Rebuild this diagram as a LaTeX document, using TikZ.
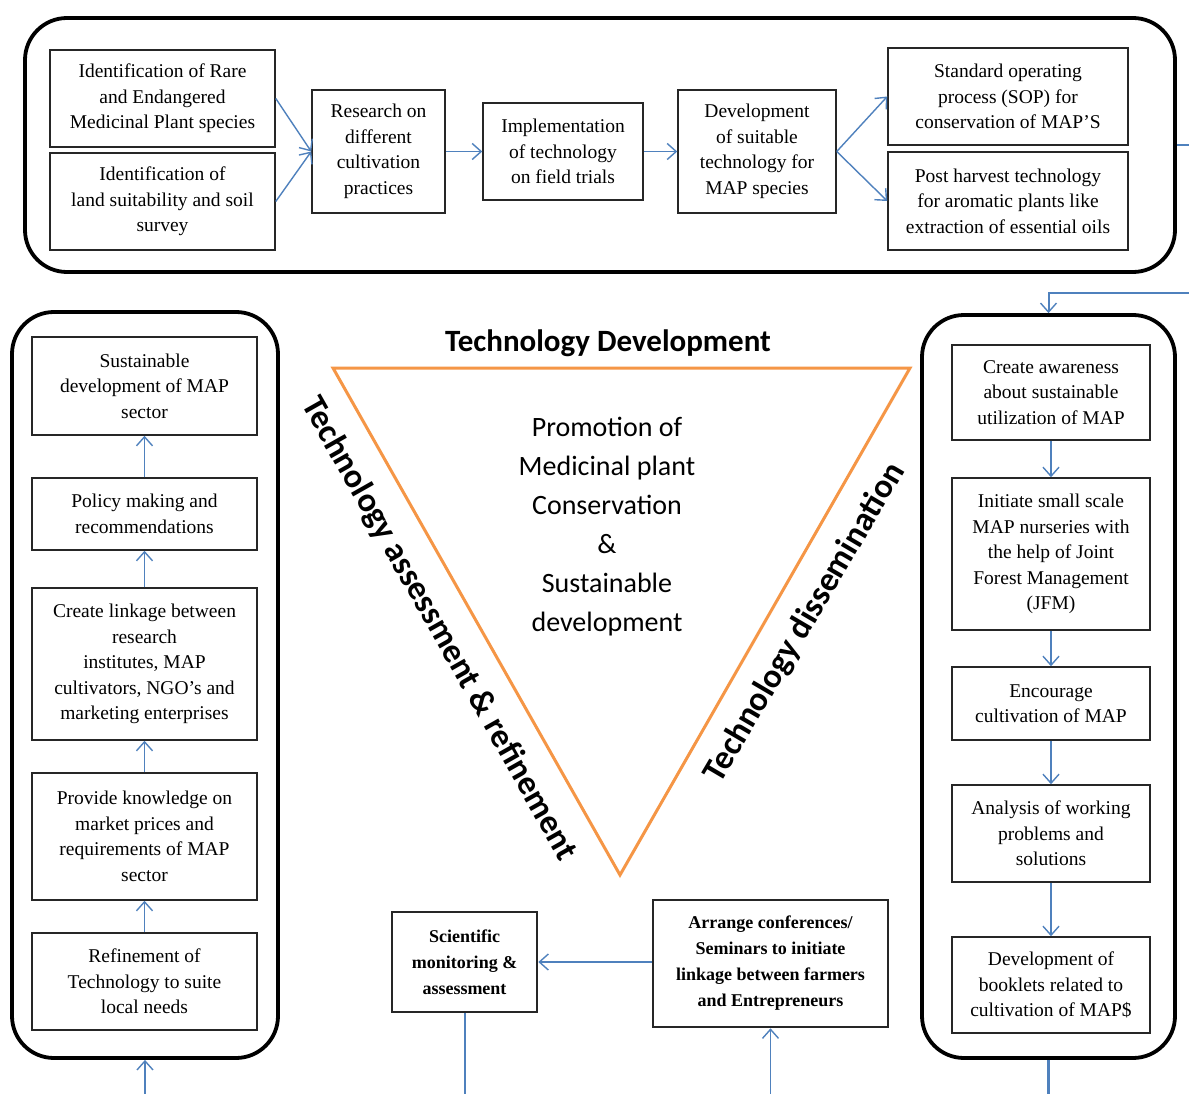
\documentclass[tikz,border=0pt]{standalone}
\usepackage{fontspec}
\setmainfont{Liberation Serif}
\newfontfamily\calfont{Carlito}
\usetikzlibrary{arrows.meta}
\definecolor{conn}{RGB}{79,129,189}
\definecolor{tri}{RGB}{245,150,70}
\tikzset{
  box/.style={draw=black!85, line width=1.5pt, fill=white, align=center, inner sep=2pt,
    font=\fontsize{19.5}{25.5}\selectfont},
  bbox/.style={box, line width=2.6pt, font=\bfseries\fontsize{18}{26}\selectfont},
  outer/.style={draw=black, line width=3.8pt, rounded corners=42pt},
  arr/.style={draw=conn, line width=1.4pt, -{Straight Barb[length=9pt,width=16pt,line width=1.4pt]}},
  ln/.style={draw=conn, line width=2pt},
  lbl/.style={font=\calfont\bfseries\fontsize{31}{36}\selectfont, inner sep=0pt},
  rlbl/.style={font=\calfont\bfseries\fontsize{34}{40}\selectfont, inner sep=0pt},
}
\begin{document}
\begin{tikzpicture}[x=1pt,y=-1pt]
\useasboundingbox (0,0) rectangle (1189,1094);
\clip (0,0) rectangle (1189,1094);
\fill[white] (0,0) rectangle (1189,1094);

% outer rounded frames
\node[outer, minimum width=1150pt, minimum height=254pt] (top) at (600,145) {};
\node[outer, minimum width=266pt, minimum height=746pt] (lout) at (145,685) {};
\node[outer, minimum width=253pt, minimum height=743pt] (rout) at (1048.5,686.5) {};

% top row
\node[box, minimum width=225pt, minimum height=97pt] (a1) at (162.5,98.5) {Identification of Rare\\and Endangered\\Medicinal Plant species};
\node[box, minimum width=225pt, minimum height=97pt] (a2) at (162.5,201.5) {Identification of\\land suitability and soil\\survey};
\node[box, minimum width=133pt, minimum height=123pt] (b) at (378.5,151.5) {Research on\\different\\cultivation\\practices};
\node[box, minimum width=160pt, minimum height=97pt] (c) at (563,151.5) {Implementation\\of technology\\on field trials};
\node[box, minimum width=158pt, minimum height=123pt] (d) at (757,151.5) {Development\\of suitable\\technology for\\MAP species};
\node[box, minimum width=240pt, minimum height=97pt] (e1) at (1008,96.5) {Standard operating\\process (SOP) for\\conservation of MAP'S};
\node[box, minimum width=240pt, minimum height=98pt] (e2) at (1008,201) {Post harvest technology\\for aromatic plants like\\extraction of essential oils};

\draw[arr] (a1.east) -- (b.west);
\draw[arr] (a2.east) -- (b.west);
\draw[arr] (b) -- (c);
\draw[arr] (c) -- (d);
\draw[arr] (d.east) -- (e1.west);
\draw[arr] (d.east) -- (e2.west);

% left column
\node[box, minimum width=225pt, minimum height=98pt] (l1) at (144.5,386) {Sustainable\\development of MAP\\sector};
\node[box, minimum width=225pt, minimum height=72pt] (l2) at (144.5,514) {Policy making and\\recommendations};
\node[box, minimum width=225pt, minimum height=152pt] (l3) at (144.5,664) {Create linkage between\\research\\institutes, MAP\\cultivators, NGO's and\\marketing enterprises};
\node[box, minimum width=225pt, minimum height=127pt] (l4) at (144.5,836.5) {Provide knowledge on\\market prices and\\requirements of MAP\\sector};
\node[box, minimum width=225pt, minimum height=97pt] (l5) at (144.5,981.5) {Refinement of\\Technology to suite\\local needs};
\draw[arr] (l5) -- (l4);
\draw[arr] (l4) -- (l3);
\draw[arr] (l3) -- (l2);
\draw[arr] (l2) -- (l1);

% right column
\node[box, minimum width=198pt, minimum height=95pt] (r1) at (1051,392.5) {Create awareness\\about sustainable\\utilization of MAP};
\node[box, minimum width=198pt, minimum height=152pt] (r2) at (1051,554) {Initiate small scale\\MAP nurseries with\\the help of Joint\\Forest Management\\(JFM)};
\node[box, minimum width=198pt, minimum height=73pt] (r3) at (1051,703.5) {Encourage\\cultivation of MAP};
\node[box, minimum width=198pt, minimum height=97pt] (r4) at (1051,833.5) {Analysis of working\\problems and\\solutions};
\node[box, minimum width=198pt, minimum height=96pt] (r5) at (1051,985) {Development of\\booklets related to\\cultivation of MAP\$};
\draw[arr] (r1) -- (r2);
\draw[arr] (r2) -- (r3);
\draw[arr] (r3) -- (r4);
\draw[arr] (r4) -- (r5);

% bottom boxes
\node[bbox, minimum width=145pt, minimum height=100pt] (s) at (464.5,962) {Scientific\\monitoring \&\\assessment};
\node[bbox, minimum width=235pt, minimum height=127pt] (ar) at (770.5,963.5) {Arrange conferences/\\Seminars to initiate\\linkage between farmers\\and Entrepreneurs};
\draw[arr] (ar.west |- s.east) -- (s.east);

% long connectors leaving the picture
\coordinate (tr) at (1205,145);
\coordinate (tr2) at (1205,293);
\draw[ln, -{Straight Barb[length=9pt,width=16pt,line width=1.4pt]}] (top.east) -- (tr) -- (tr2) -| (rout.north);
\coordinate (lin) at (145,1110);
\draw[arr] (lin) -- (lout.south);
\coordinate (rdown) at (1048.5,1110);
\draw[ln, line width=3pt] (rout.south) -- (rdown);
\coordinate (sdown) at (464.5,1110);
\draw[ln] (s.south) -- (sdown);
\coordinate (arin) at (770.5,1110);
\draw[arr] (arin) -- (ar.south);

% triangle
\coordinate (t1) at (333,368);
\coordinate (t2) at (910,368);
\coordinate (t3) at (620,875);
\draw[tri, line width=3pt, line join=miter] (t1) -- (t2) -- (t3) -- cycle;
\node[lbl] (tdev) at (608,343) {Technology Development};
\node[rlbl, rotate=-60.5] (tass) at (439,629) {Technology assessment \& refinement};
\node[rlbl, rotate=59.5] (tdis) at (805,623) {Technology dissemination};
\node[align=center, inner sep=0pt, font=\calfont\fontsize{28}{39}\selectfont] (centre) at (607,527) {Promotion of\\Medicinal plant\\Conservation\\\&\\Sustainable\\development};
\end{tikzpicture}
\end{document}
